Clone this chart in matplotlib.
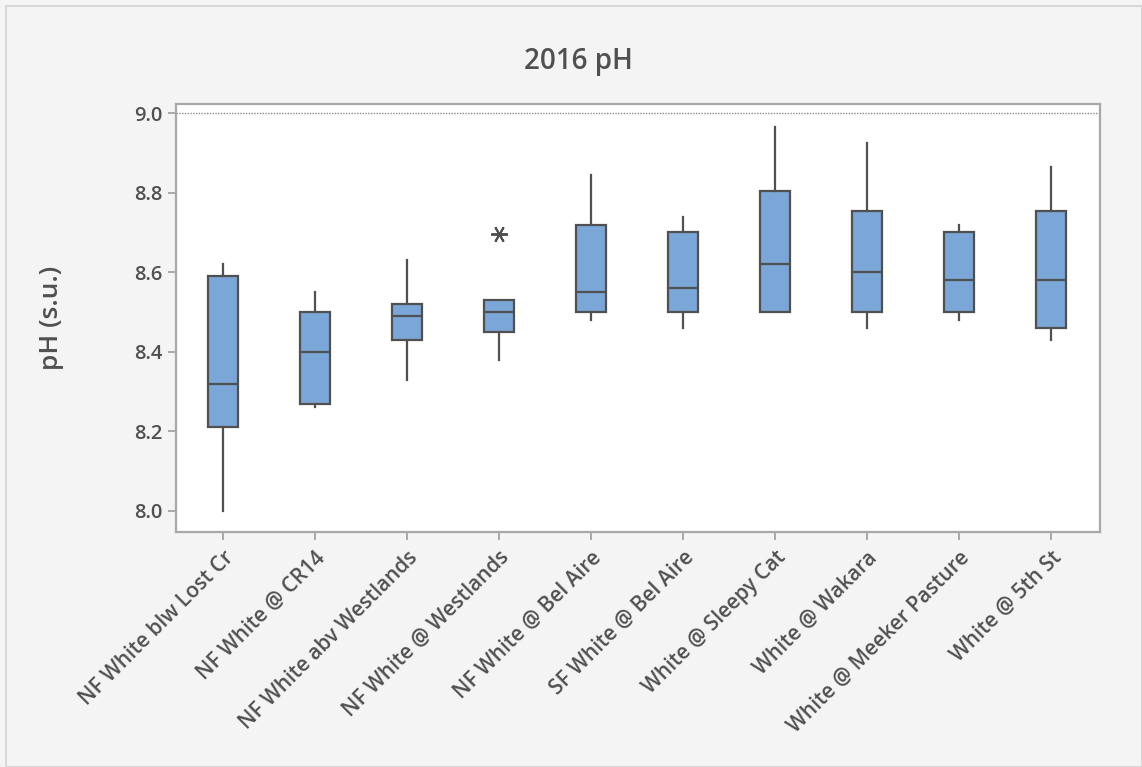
import matplotlib.pyplot as plt
from matplotlib.patches import Rectangle

sites = ['NF White blw Lost Cr', 'NF White @ CR14', 'NF White abv Westlands',
         'NF White @ Westlands', 'NF White @ Bel Aire', 'SF White @ Bel Aire',
         'White @ Sleepy Cat', 'White @ Wakara', 'White @ Meeker Pasture',
         'White @ 5th St']
whislo = [8.00, 8.26, 8.33, 8.38, 8.48, 8.46, 8.50, 8.46, 8.48, 8.43]
q1 = [8.21, 8.27, 8.43, 8.45, 8.50, 8.50, 8.50, 8.50, 8.50, 8.46]
med = [8.32, 8.40, 8.49, 8.50, 8.55, 8.56, 8.62, 8.60, 8.58, 8.58]
q3 = [8.59, 8.50, 8.52, 8.53, 8.72, 8.70, 8.805, 8.755, 8.70, 8.755]
whishi = [8.62, 8.55, 8.63, 8.53, 8.845, 8.74, 8.965, 8.925, 8.72, 8.865]
fliers = [[], [], [], [8.695], [], [], [], [], [], []]
ref_line = 9.0

txt = '#505050'
edge = '#505050'
fill = '#7ba7d8'
plt.rcParams['font.family'] = ['Open Sans', 'DejaVu Sans']

fig = plt.figure(figsize=(11.42, 7.67), dpi=100, facecolor='#f4f4f4')
fig.patches.append(Rectangle((6/1142, 0), 1 - 6/1142, 1 - 6/767, transform=fig.transFigure,
                             fill=False, edgecolor='#d2d2d2', lw=1.2))
ax = fig.add_axes([176/1142, 1 - 532/767, 924/1142, 428/767])

stats = []
for i in range(len(sites)):
    stats.append(dict(whislo=whislo[i], q1=q1[i], med=med[i], q3=q3[i],
                      whishi=whishi[i], fliers=fliers[i]))

ax.bxp(stats, positions=range(1, len(sites) + 1), widths=0.33, patch_artist=True,
       showcaps=False,
       boxprops=dict(facecolor=fill, edgecolor=edge, lw=1.6),
       medianprops=dict(color=edge, lw=1.6),
       whiskerprops=dict(color=edge, lw=1.6),
       flierprops=dict(marker=(6, 2, 90), markersize=12, markeredgecolor=edge,
                       markeredgewidth=1.4, linestyle='none'))

ax.axhline(ref_line, color='#8a8a8a', lw=1.0, ls=(0, (1, 1)))

ax.set_xlim(0.49, 10.53)
ax.set_ylim(7.947, 9.023)
ax.set_yticks([8.0, 8.2, 8.4, 8.6, 8.8, 9.0])
ax.set_yticklabels(['8.0', '8.2', '8.4', '8.6', '8.8', '9.0'])
ax.set_xticks(range(1, len(sites) + 1))
ax.set_xticklabels(sites, rotation=45, ha='right', rotation_mode='anchor')

for s in ax.spines.values():
    s.set_color('#a8a8a8')
    s.set_linewidth(1.6)
ax.tick_params(colors='#a8a8a8', length=6, width=1.4, labelcolor=txt)
ax.tick_params(axis='y', labelsize=14.5, pad=4)
ax.tick_params(axis='x', labelsize=15, pad=5)
for lab in ax.get_xticklabels() + ax.get_yticklabels():
    lab.set_fontweight('semibold')

fig.text(578/1142, 1 - 62/767, '2016 pH', fontsize=20, color=txt, fontweight='semibold',
         ha='center', va='center')
fig.text(52/1142, 1 - 318/767, 'pH (s.u.)', fontsize=19, color=txt, fontweight='semibold',
         ha='center', va='center', rotation=90)

fig.savefig('out.png', dpi=100, facecolor=fig.get_facecolor())
